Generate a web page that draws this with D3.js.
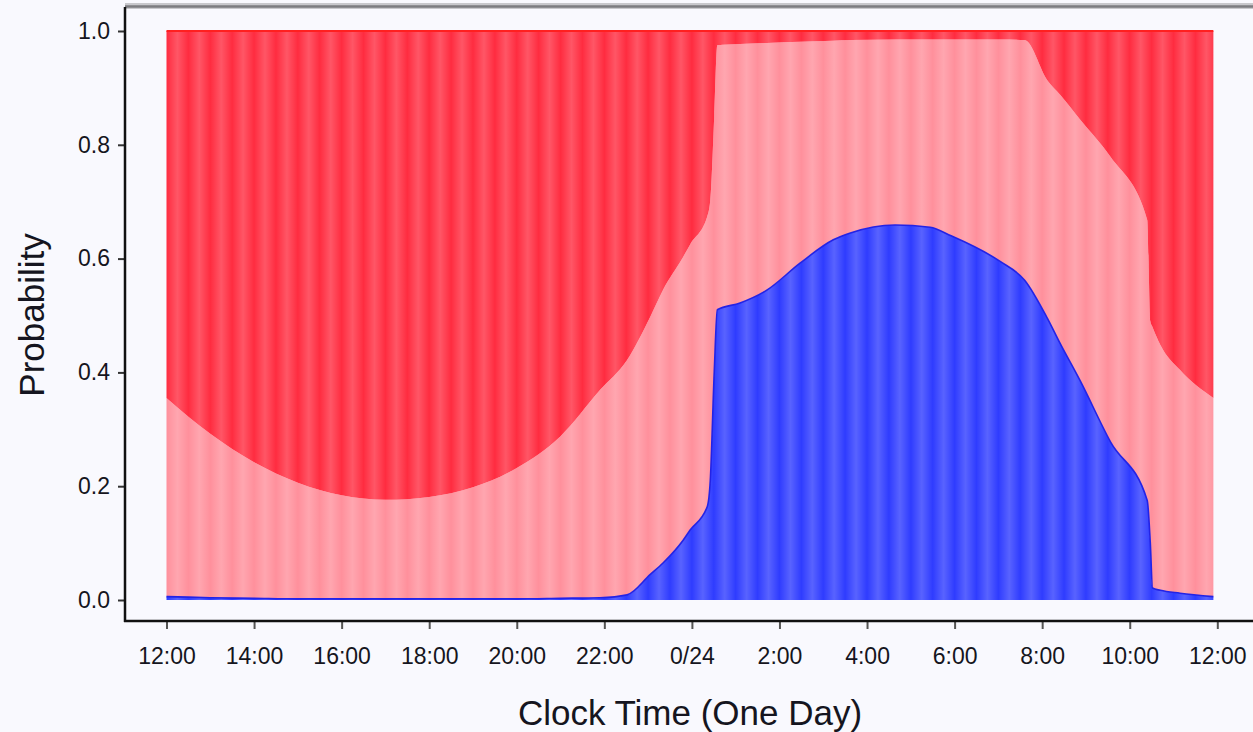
<!DOCTYPE html>
<html>
<head>
<meta charset="utf-8">
<script src="https://cdn.jsdelivr.net/npm/d3@7"></script>
<style>
  html, body { margin: 0; padding: 0; background: #f9f9fe; }
  svg { display: block; }
  text { font-family: "Liberation Sans", Arial, Helvetica, sans-serif; fill: #151520; }
</style>
</head>
<body>
<svg id="chart" width="1253" height="732"></svg>
<script>
// ---- data (hours since 12:00 of day 1, 12..36) ----
const times = [12.00, 12.50, 13.00, 14.00, 15.00, 16.00, 17.00, 18.00, 19.00, 20.00, 21.00, 21.90,
  22.52, 23.05, 23.34, 23.80, 23.96, 24.35, 24.42, 24.51, 24.58, 25.10, 25.72, 26.47, 27.23, 27.62,
  28.64, 29.44, 29.92, 31.04, 31.60, 32.12, 32.41, 32.87, 33.56, 34.40, 34.47, 34.52, 34.70, 35.15, 35.91];
const blueProb = [0.006, 0.005, 0.004, 0.003, 0.002, 0.002, 0.002, 0.002, 0.002, 0.002, 0.003, 0.004,
  0.009, 0.045, 0.065, 0.105, 0.123, 0.164, 0.210, 0.400, 0.510, 0.522, 0.545, 0.592, 0.633, 0.645,
  0.659, 0.655, 0.640, 0.595, 0.562, 0.495, 0.451, 0.385, 0.278, 0.175, 0.100, 0.021, 0.017, 0.012, 0.006];
const pinkProb = [0.349, 0.317, 0.288, 0.239, 0.204, 0.182, 0.174, 0.179, 0.196, 0.230, 0.285, 0.365,
  0.413, 0.453, 0.480, 0.498, 0.502, 0.510, 0.493, 0.450, 0.465, 0.455, 0.434, 0.389, 0.350, 0.339,
  0.326, 0.330, 0.345, 0.390, 0.422, 0.418, 0.437, 0.459, 0.501, 0.493, 0.390, 0.459, 0.431, 0.392, 0.349];
const redProb = [0.645, 0.678, 0.708, 0.758, 0.794, 0.816, 0.824, 0.819, 0.802, 0.768, 0.712, 0.631,
  0.578, 0.502, 0.455, 0.397, 0.375, 0.326, 0.297, 0.150, 0.025, 0.023, 0.021, 0.019, 0.017, 0.016,
  0.015, 0.015, 0.015, 0.015, 0.016, 0.087, 0.112, 0.156, 0.221, 0.332, 0.510, 0.520, 0.552, 0.596, 0.645];

const seriesKeys = ["blue", "pink", "red"];
const seriesColors = { blue: "#2f3cff", pink: "#ff909c", red: "#ff2c40" };

const xTickHours = [12, 14, 16, 18, 20, 22, 24, 26, 28, 30, 32, 34, 36];
const xTickLabels = ["12:00", "14:00", "16:00", "18:00", "20:00", "22:00", "0/24", "2:00", "4:00", "6:00", "8:00", "10:00", "12:00"];
const yTicks = [0, 0.2, 0.4, 0.6, 0.8, 1.0];

const xTitle = "Clock Time (One Day)";
const yTitle = "Probability";

// ---- chart ----
const svg = d3.select("#chart");
const x = d3.scaleLinear().domain([12, 36]).range([166.5, 1217.3]);
const y = d3.scaleLinear().domain([0, 1]).range([600, 31]);

const rows = times.map((t, i) => ({ t, blue: blueProb[i], pink: pinkProb[i], red: redProb[i] }));
const stacked = d3.stack().keys(seriesKeys)(rows);

const defs = svg.append("defs");
const grad = defs.append("linearGradient").attr("id", "stripe").attr("x1", 0).attr("x2", 1).attr("y1", 0).attr("y2", 0);
grad.append("stop").attr("offset", "0%").attr("stop-color", "#fff").attr("stop-opacity", 0);
grad.append("stop").attr("offset", "50%").attr("stop-color", "#fff").attr("stop-opacity", 0.2);
grad.append("stop").attr("offset", "100%").attr("stop-color", "#fff").attr("stop-opacity", 0);

const area = d3.area()
  .x(d => x(d.data.t))
  .y0(d => y(d[0]))
  .y1(d => y(d[1]))
  .curve(d3.curveMonotoneX);

// clip for stripes: whole stacked region
defs.append("clipPath").attr("id", "dataClip")
  .append("path")
  .attr("d", area(stacked[stacked.length - 1].map(d => Object.assign([0, 1], { data: d.data }))));

const g = svg.append("g");
g.selectAll("path.layer")
  .data(stacked)
  .join("path")
  .attr("class", "layer")
  .attr("fill", d => seriesColors[d.key])
  .attr("d", area);

// vertical half-hour shading stripes
const stripeStarts = d3.range(12, 36, 0.5);
g.append("g").attr("clip-path", "url(#dataClip)")
  .selectAll("rect")
  .data(stripeStarts)
  .join("rect")
  .attr("x", d => x(d))
  .attr("width", d => x(d + 0.5) - x(d))
  .attr("y", y(1))
  .attr("height", y(0) - y(1))
  .attr("fill", "url(#stripe)");

// edge lines
const line = d3.line().x(d => x(d.data.t)).y(d => y(d[1])).curve(d3.curveMonotoneX);
g.append("path").datum(stacked[0]).attr("d", line)
  .attr("fill", "none").attr("stroke", "#2323e6").attr("stroke-width", 1.6);
g.append("path").datum(stacked[2]).attr("d", line)
  .attr("fill", "none").attr("stroke", "#ff2020").attr("stroke-width", 1.8);

// ---- frame ----
svg.append("line").attr("x1", 125).attr("x2", 1253).attr("y1", 6).attr("y2", 6)
  .attr("stroke", "#c8c8cc").attr("stroke-width", 6);
svg.append("line").attr("x1", 125).attr("x2", 1253).attr("y1", 6.5).attr("y2", 6.5)
  .attr("stroke", "#7c7c80").attr("stroke-width", 2.5);

// ---- axes ----
const yAxis = d3.axisLeft(y).tickValues(yTicks).tickFormat(d3.format(".1f")).tickSize(7).tickPadding(8);
const yg = svg.append("g").attr("transform", "translate(125,0)").call(yAxis);
yg.select(".domain").remove();
yg.selectAll(".tick line").attr("stroke", "#333").attr("stroke-width", 2);
yg.selectAll(".tick text").style("font-size", "23px").attr("fill", "#151520");
svg.append("line").attr("x1", 125).attr("x2", 125).attr("y1", 7).attr("y2", 622)
  .attr("stroke", "#111").attr("stroke-width", 2.5);

const xAxis = d3.axisBottom(x).tickValues(xTickHours)
  .tickFormat((d, i) => xTickLabels[i]).tickSize(8).tickPadding(19);
const xg = svg.append("g").attr("transform", "translate(0,621)").call(xAxis);
xg.select(".domain").remove();
xg.selectAll(".tick line").attr("stroke", "#555").attr("stroke-width", 2);
xg.selectAll(".tick text").style("font-size", "23px").attr("fill", "#151520");
svg.append("line").attr("x1", 124).attr("x2", 1253).attr("y1", 621).attr("y2", 621)
  .attr("stroke", "#111").attr("stroke-width", 2.5);

// ---- titles ----
svg.append("text").attr("x", 690).attr("y", 725).attr("text-anchor", "middle")
  .style("font-size", "35px").text(xTitle);
svg.append("text").attr("transform", "translate(44,315) rotate(-90)").attr("text-anchor", "middle")
  .style("font-size", "35px").text(yTitle);
</script>
</body>
</html>
